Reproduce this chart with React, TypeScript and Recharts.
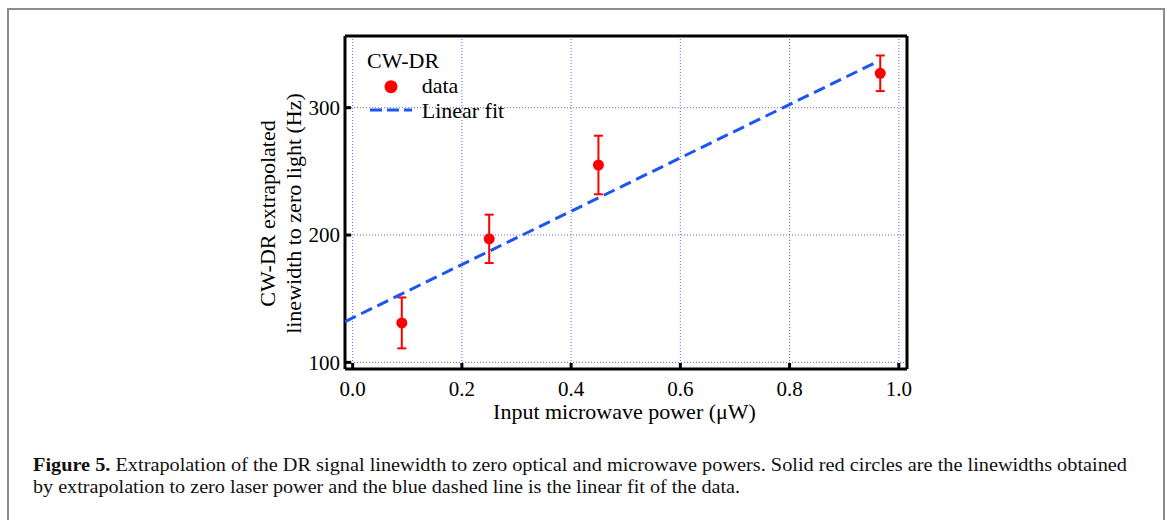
import React from "react";
import { ScatterChart, Scatter, XAxis, YAxis, CartesianGrid, ErrorBar, Legend } from "recharts";

const SERIF = "'Liberation Serif', 'Times New Roman', serif";

// measured points
const powerUW = [0.09, 0.25, 0.45, 0.966];
const linewidthHz = [131, 197, 255, 327];
const errorHz = [20, 19, 23, 14];

// linear fit end points
const fitPower = [-0.014, 0.96];
const fitLinewidth = [132, 336];

const xTicks = [0, 0.2, 0.4, 0.6, 0.8, 1.0];
const yTicks = [100, 200, 300];

const points = powerUW.map((x, i) => ({ x, y: linewidthHz[i], err: errorHz[i] }));
const fit = fitPower.map((x, i) => ({ x, y: fitLinewidth[i] }));

const RED = "#ff0000";
const BLUE = "#1a56f5";
const GRID = "#6262ff";

const YTick = ({ x, y, payload }: any) => (
  <g>
    <line x1={x} x2={x + 6} y1={y} y2={y} stroke="#000" strokeWidth={3} />
    <text x={x - 5} y={y} dy="0.34em" textAnchor="end" fontSize={21} fontFamily={SERIF} fill="#000">
      {payload.value}
    </text>
  </g>
);

const XTick = ({ x, y, payload }: any) => (
  <g>
    <line x1={x} x2={x} y1={y} y2={y - 6} stroke="#000" strokeWidth={3} />
    <text x={x} y={y + 27} textAnchor="middle" fontSize={21} fontFamily={SERIF} fill="#000">
      {Number(payload.value).toFixed(1)}
    </text>
  </g>
);

const YTitle = (props: any) => {
  const vb = props.viewBox;
  const right = vb.x + vb.width;
  const cy = vb.y + vb.height / 2 + 11;
  const common = { textAnchor: "middle" as const, dominantBaseline: "central" as const, fontSize: 22, fontFamily: SERIF, fill: "#000" };
  return (
    <g>
      <text transform={`translate(${right - 78}, ${cy}) rotate(-90)`} {...common}>CW-DR extrapolated</text>
      <text transform={`translate(${right - 52}, ${cy}) rotate(-90)`} {...common}>linewidth to zero light (Hz)</text>
    </g>
  );
};

const XTitle = (props: any) => {
  const vb = props.viewBox;
  return (
    <text x={vb.x + vb.width / 2 - 1.5} y={vb.y + vb.height} textAnchor="middle" fontSize={22} fontFamily={SERIF} fill="#000">
      Input microwave power (μW)
    </text>
  );
};

const LegendBox = () => (
  <svg width={200} height={90} style={{ overflow: "visible" }}>
    <g fontFamily={SERIF} fontSize={22} fill="#000">
      <text x={12} y={27.7}>CW-DR</text>
      <circle cx={36} cy={46.7} r={6.5} fill={RED} />
      <text x={66.7} y={52.7}>data</text>
      <line x1={15} x2={57} y1={70} y2={70} stroke={BLUE} strokeWidth={3} strokeDasharray="12 5" />
      <text x={66.7} y={77.7}>Linear fit</text>
    </g>
  </svg>
);

export default function App() {
  return (
    <div style={{ position: "absolute", left: 0, top: 0, width: 1167, height: 520, overflow: "hidden", background: "#fff" }}>
      <div
        style={{
          position: "absolute", left: 7, top: 8, width: 1154, height: 512,
          borderTop: "2px solid #8c8c8c", borderLeft: "2px solid #8c8c8c", borderRight: "2px solid #8c8c8c",
        }}
      />
      <div style={{ position: "absolute", left: 0, top: 0 }}>
        <ScatterChart width={1167} height={440} margin={{ top: 35, right: 259, left: 344, bottom: 21 }}>
          <CartesianGrid stroke={GRID} strokeDasharray="1 2" strokeWidth={1} />
          <XAxis
            type="number" dataKey="x" domain={[-0.014, 1.015]} ticks={xTicks} height={50}
            tickSize={0} tickMargin={0} tickLine={false} tick={<XTick />}
            axisLine={{ stroke: "#000", strokeWidth: 3 }} allowDataOverflow label={<XTitle />}
          />
          <XAxis xAxisId="top" orientation="top" type="number" domain={[-0.014, 1.015]} height={1}
            tick={false} tickLine={false} axisLine={{ stroke: "#000", strokeWidth: 3 }} />
          <YAxis
            type="number" dataKey="y" domain={[94.8, 356.3]} ticks={yTicks} width={1}
            tickSize={0} tickMargin={0} tickLine={false} tick={<YTick />}
            axisLine={{ stroke: "#000", strokeWidth: 3 }} allowDataOverflow label={<YTitle />}
          />
          <YAxis yAxisId="right" orientation="right" type="number" domain={[94.8, 356.3]} width={1}
            tick={false} tickLine={false} axisLine={{ stroke: "#000", strokeWidth: 3 }} />
          <Legend layout="horizontal" verticalAlign="middle" align="center" content={<LegendBox />}
            wrapperStyle={{ position: "absolute", left: 355, top: 40, width: 200, height: 90 }} />
          <Scatter
            name="Linear fit" data={fit} isAnimationActive={false}
            line={{ stroke: BLUE, strokeWidth: 3, strokeDasharray: "12 6" }} shape={() => <g />}
          />
          <Scatter name="data" data={points} fill={RED} isAnimationActive={false}
            shape={(p: any) => <circle cx={p.cx} cy={p.cy} r={5.5} fill={RED} />}>
            <ErrorBar dataKey="err" direction="y" width={4.5} stroke={RED} strokeWidth={2} />
          </Scatter>
        </ScatterChart>
      </div>
      <svg width={1167} height={80} style={{ position: "absolute", left: 0, top: 440 }}>
        <g fontFamily={SERIF} fontSize={18} fill="#111">
          <text x={33} y={31} textLength={1094} lengthAdjust="spacingAndGlyphs">
            <tspan fontWeight="bold">Figure 5.</tspan> Extrapolation of the DR signal linewidth to zero optical and microwave powers. Solid red circles are the linewidths obtained
          </text>
          <text x={33} y={52.7} textLength={707} lengthAdjust="spacingAndGlyphs">
            by extrapolation to zero laser power and the blue dashed line is the linear fit of the data.
          </text>
        </g>
      </svg>
    </div>
  );
}
